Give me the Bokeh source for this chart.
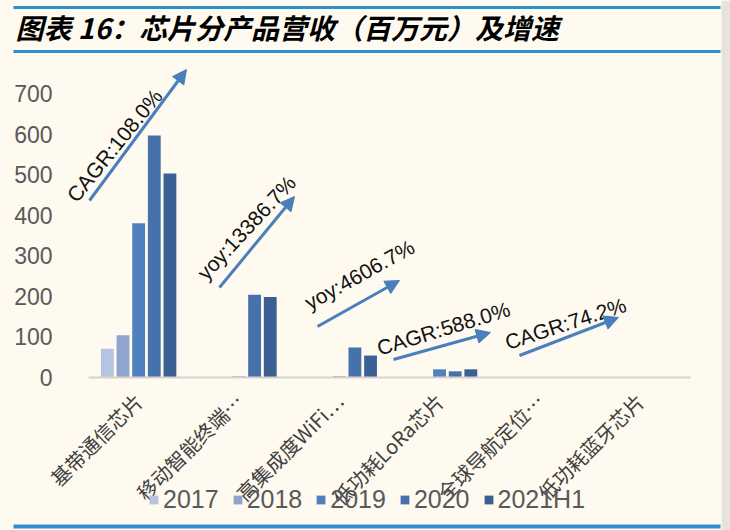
from math import pi, radians
from bokeh.plotting import figure
from bokeh.models import (ColumnDataSource, LinearAxis, FixedTicker, Range1d, Arrow,
                          NormalHead, Label, BoxAnnotation, Legend, LegendItem)
from bokeh.core.properties import value
from bokeh.transform import dodge
from bokeh.embed import file_html
from bokeh.resources import INLINE

# ---------------- data ----------------
categories = ["基带通信芯片", "移动智能终端…", "高集成度WiFi…",
              "低功耗LoRa芯片", "全球导航定位…", "低功耗蓝牙芯片"]
years = ["2017", "2018", "2019", "2020", "2021H1"]
rev_2017 = [70, 0, 0, 0, 0, 0]
rev_2018 = [103, 0, 0, 0, 0, 0]
rev_2019 = [380, 1.5, 1.6, 19, 0, 0]
rev_2020 = [597, 203, 73, 14, 0, 0]
rev_2021H1 = [503, 198, 53, 19, 0, 0]
y_ticks = [0, 100, 200, 300, 400, 500, 600, 700]
growth_labels = ["CAGR:108.0%", "yoy:13386.7%", "yoy:4606.7%", "CAGR:588.0%", "CAGR:74.2%"]
title_text = "图表 16：芯片分产品营收（百万元）及增速"

# ---------------- layout helpers (screen px -> data) ----------------
W, H = 730, 530
PX_X0, PX_PER_CAT = 88.0, 100.3
PX_Y0, PX_PER_UNIT = 376.5, 0.4046


def dx(px):
    return (px - PX_X0) / PX_PER_CAT


def dy(py):
    return (PX_Y0 - py) / PX_PER_UNIT


BG = "#FEFAF0"
BAR_COLORS = ["#B7C4E1", "#8FA5CF", "#4F80C0", "#4671AA", "#3B6194"]
ARROW_COLOR = "#4A7EBD"
RULE_COLOR = "#2F8FCC"

p = figure(width=W, height=H, output_backend="svg", toolbar_location=None,
           x_range=Range1d(dx(0), dx(W)), y_range=Range1d(dy(H), dy(0)),
           x_axis_location=None, y_axis_location=None, min_border=0,
           background_fill_color=BG, border_fill_color=BG, outline_line_color=None)
p.xgrid.grid_line_color = None
p.ygrid.grid_line_color = None

centers = [i + 0.5 for i in range(len(categories))]
src = ColumnDataSource(dict(x=centers, y2017=rev_2017, y2018=rev_2018, y2019=rev_2019,
                            y2020=rev_2020, y2021H1=rev_2021H1))
cols = ["y2017", "y2018", "y2019", "y2020", "y2021H1"]
STEP, BW = 0.156, 0.128
renderers = []
for k, (col, c) in enumerate(zip(cols, BAR_COLORS)):
    r = p.vbar(x=dodge("x", (k - 2) * STEP), top=col, width=BW, source=src,
               fill_color=c, line_color=None)
    renderers.append(r)

# axes
yaxis = LinearAxis(ticker=FixedTicker(ticks=y_ticks), fixed_location=dx(60),
                   axis_line_color=None, major_tick_line_color=None,
                   minor_tick_line_color=None, major_label_standoff=2,
                   major_label_text_font="Liberation Sans",
                   major_label_text_font_size="23px", major_label_text_color="#595959")
p.add_layout(yaxis, "left")

xaxis = LinearAxis(ticker=FixedTicker(ticks=centers),
                   major_label_overrides={c: n for c, n in zip(centers, categories)},
                   fixed_location=0, bounds=(0, len(categories)),
                   axis_line_color="#D6D3CE", axis_line_width=2,
                   major_tick_line_color=None, minor_tick_line_color=None,
                   major_label_orientation=pi / 4, major_label_standoff=14,
                   major_label_text_font="Noto Sans CJK SC",
                   major_label_text_font_size="20px", major_label_text_color="#404040")
p.add_layout(xaxis, "below")

# growth arrows and labels (positions in data coordinates)
arrows = ColumnDataSource(dict(
    x0=[dx(89), dx(219), dx(317), dx(393), dx(519)],
    y0=[dy(200), dy(287), dy(326), dy(359), dy(355)],
    x1=[dx(186), dx(294), dx(399), dx(490), dx(618)],
    y1=[dy(69), dy(196), dy(280), dy(332), dy(317)],
))
p.add_layout(Arrow(x_start="x0", y_start="y0", x_end="x1", y_end="y1", source=arrows,
                   line_color=ARROW_COLOR, line_width=3,
                   end=NormalHead(size=14, fill_color=ARROW_COLOR, line_color=ARROW_COLOR)))

lab = ColumnDataSource(dict(
    x=[dx(114), dx(246), dx(359), dx(443), dx(565)],
    y=[dy(145), dy(227), dy(274), dy(328), dy(323)],
    angle=[radians(51), radians(47), radians(29), radians(17), radians(18)],
    text=growth_labels,
))
p.text(x="x", y="y", text="text", angle="angle", source=lab,
       text_font=value("Liberation Sans"), text_font_size="21px",
       text_align="center", text_baseline="middle", text_color="#111111")

# legend
legend = Legend(items=[LegendItem(label=y, renderers=[r]) for y, r in zip(years, renderers)],
                orientation="horizontal", location=(148, 16),
                background_fill_alpha=0, border_line_color=None,
                glyph_width=11, glyph_height=11, label_standoff=4, spacing=13,
                padding=0, margin=0, label_text_font="Liberation Sans",
                label_text_font_size="25px", label_text_color="#595959")
p.add_layout(legend)

# title and decorative rules
for top, bot in [(5.5, 8.5), (49.5, 52.5), (524, 528)]:
    p.add_layout(BoxAnnotation(left=dx(13), right=dx(720), top=dy(top), bottom=dy(bot),
                               fill_color=RULE_COLOR, fill_alpha=1, line_color=None))
p.add_layout(BoxAnnotation(left=dx(721), right=dx(730), top=dy(0), bottom=dy(530),
                           fill_color="#E6E3DA", fill_alpha=1, line_color=None))
p.add_layout(Label(x=dx(15), y=dy(26), text=title_text, text_font="Noto Sans CJK SC",
                   text_font_style="bold italic", text_font_size="28px",
                   text_baseline="middle", text_color="#000000"))

open("out.html", "w").write(file_html(p, INLINE))
